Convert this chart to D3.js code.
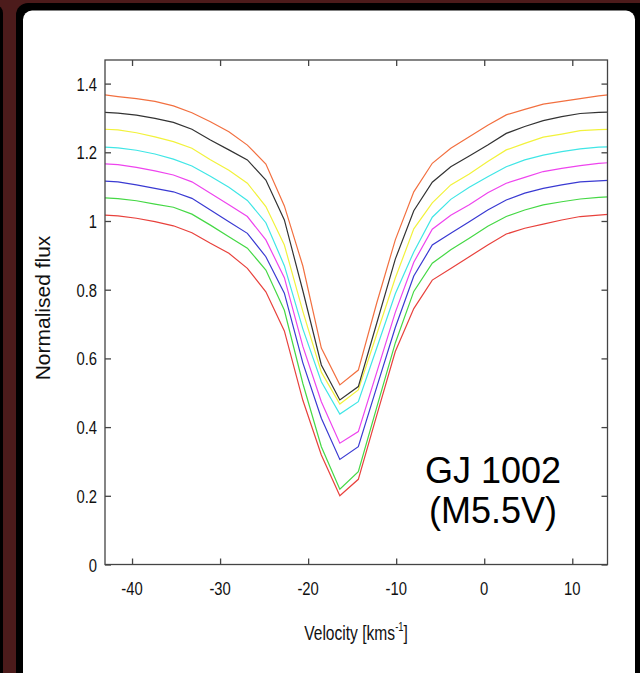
<!DOCTYPE html>
<html>
<head>
<meta charset="utf-8">
<script src="https://cdn.jsdelivr.net/npm/d3@7"></script>
<style>
html, body { margin: 0; padding: 0; background: #000; overflow: hidden; }
svg { display: block; }
</style>
</head>
<body>
<div id="chart"></div>
<script>
// velocity grid of the profiles (km/s)
const velocity = [-43.7, -41.6, -39.5, -37.4, -35.3, -33.2, -31.1, -29.0, -26.9, -24.8, -22.7, -20.6, -18.5, -16.4, -14.3,
    -12.2, -10.1, -8.0, -5.9, -3.8, -1.7, 0.4, 2.5, 4.6, 6.7, 8.8, 10.9, 13.0, 15.1];

// normalised flux, one profile per colour (bottom to top)
const fluxRed = [1.018, 1.015, 1.008, 0.998, 0.986, 0.966, 0.935, 0.906, 0.862, 0.794, 0.680, 0.478, 0.319, 0.200, 0.248,
    0.435, 0.620, 0.745, 0.828, 0.862, 0.896, 0.930, 0.962, 0.979, 0.991, 1.003, 1.013, 1.017, 1.021];
const fluxGreen = [1.068, 1.065, 1.059, 1.049, 1.040, 1.020, 0.988, 0.954, 0.921, 0.857, 0.740, 0.527, 0.343, 0.219, 0.270,
    0.458, 0.645, 0.795, 0.877, 0.916, 0.950, 0.985, 1.013, 1.032, 1.047, 1.056, 1.064, 1.069, 1.072];
const fluxBlue = [1.117, 1.114, 1.105, 1.095, 1.085, 1.066, 1.032, 0.998, 0.964, 0.896, 0.790, 0.587, 0.426, 0.306, 0.343,
    0.517, 0.690, 0.840, 0.930, 0.964, 0.998, 1.032, 1.061, 1.081, 1.095, 1.105, 1.114, 1.117, 1.120];
const fluxMagenta = [1.167, 1.164, 1.156, 1.146, 1.134, 1.114, 1.081, 1.047, 1.013, 0.945, 0.835, 0.635, 0.474, 0.353, 0.387,
    0.560, 0.734, 0.880, 0.976, 1.017, 1.047, 1.082, 1.110, 1.127, 1.144, 1.153, 1.161, 1.168, 1.171];
const fluxCyan = [1.216, 1.213, 1.206, 1.195, 1.180, 1.160, 1.130, 1.098, 1.060, 0.995, 0.870, 0.686, 0.532, 0.438, 0.474,
    0.631, 0.788, 0.910, 1.011, 1.063, 1.098, 1.129, 1.158, 1.178, 1.192, 1.202, 1.210, 1.215, 1.217];
const fluxYellow = [1.268, 1.265, 1.257, 1.245, 1.231, 1.212, 1.178, 1.148, 1.110, 1.042, 0.930, 0.737, 0.560, 0.467, 0.508,
    0.671, 0.834, 0.977, 1.053, 1.105, 1.137, 1.173, 1.207, 1.226, 1.244, 1.253, 1.263, 1.266, 1.268];
const fluxBlack = [1.317, 1.314, 1.308, 1.299, 1.287, 1.267, 1.236, 1.207, 1.178, 1.119, 1.003, 0.797, 0.581, 0.479, 0.518,
    0.703, 0.889, 1.030, 1.113, 1.158, 1.189, 1.221, 1.255, 1.275, 1.292, 1.304, 1.313, 1.316, 1.318];
const fluxOrange = [1.369, 1.362, 1.356, 1.348, 1.335, 1.315, 1.289, 1.260, 1.221, 1.166, 1.044, 0.869, 0.630, 0.523, 0.566,
    0.762, 0.945, 1.085, 1.168, 1.212, 1.245, 1.279, 1.309, 1.325, 1.340, 1.348, 1.356, 1.364, 1.370];

const xTicks = [-40, -30, -20, -10, 0, 10];
const yTicks = [0, 0.2, 0.4, 0.6, 0.8, 1, 1.2, 1.4];

const profiles = [
    {flux: fluxRed, color: "#e8413c"},
    {flux: fluxGreen, color: "#45d845"},
    {flux: fluxBlue, color: "#3a3ad2"},
    {flux: fluxMagenta, color: "#ee44ee"},
    {flux: fluxCyan, color: "#40e6e6"},
    {flux: fluxYellow, color: "#f2f23c"},
    {flux: fluxBlack, color: "#333333"},
    {flux: fluxOrange, color: "#f27040"}
];

const width = 640;
const height = 673;
const plot = {left: 105, right: 607.5, top: 60, bottom: 564.5};
const squeeze = 0.78; // figure text is horizontally compressed

const svg = d3.select("#chart").append("svg")
    .attr("width", width)
    .attr("height", height);

// slide background
svg.append("rect").attr("width", width).attr("height", height).attr("fill", "#4c1b1b");
svg.append("rect").attr("x", -20).attr("y", 5).attr("width", 23).attr("height", 700).attr("rx", 8).attr("fill", "#000");
svg.append("rect").attr("x", 16).attr("y", 3).attr("width", 660).attr("height", 720).attr("rx", 12).attr("fill", "#000");
svg.append("rect").attr("x", 23).attr("y", 10.5).attr("width", 612).attr("height", 720).attr("rx", 9).attr("fill", "#fff");

const x = d3.scaleLinear().domain([-43.07, 14.0]).range([plot.left, plot.right]);
const y = d3.scaleLinear().domain([0, 1.4687]).range([plot.bottom, plot.top]);

svg.append("clipPath").attr("id", "plot-clip")
    .append("rect")
    .attr("x", plot.left).attr("y", plot.top)
    .attr("width", plot.right - plot.left).attr("height", plot.bottom - plot.top);

const line = d3.line()
    .x((d, i) => x(velocity[i]))
    .y(d => y(d));

svg.append("g").attr("clip-path", "url(#plot-clip)")
    .selectAll("path")
    .data(profiles)
    .enter()
    .append("path")
    .attr("d", d => line(d.flux))
    .attr("fill", "none")
    .attr("stroke", d => d.color)
    .attr("stroke-width", 1.2)
    .attr("stroke-linejoin", "miter");

// axes, ticks pointing inward on all four sides
const tickLen = 6;
const axisColor = "#444";

const bottomAxis = svg.append("g")
    .attr("transform", `translate(0,${plot.bottom})`)
    .call(d3.axisBottom(x).tickValues(xTicks).tickSizeInner(-tickLen).tickSizeOuter(0).tickFormat(""));
const topAxis = svg.append("g")
    .attr("transform", `translate(0,${plot.top})`)
    .call(d3.axisTop(x).tickValues(xTicks).tickSizeInner(-tickLen).tickSizeOuter(0).tickFormat(""));
const leftAxis = svg.append("g")
    .attr("transform", `translate(${plot.left},0)`)
    .call(d3.axisLeft(y).tickValues(yTicks).tickSizeInner(-tickLen).tickSizeOuter(0).tickFormat(""));
const rightAxis = svg.append("g")
    .attr("transform", `translate(${plot.right},0)`)
    .call(d3.axisRight(y).tickValues(yTicks).tickSizeInner(-tickLen).tickSizeOuter(0).tickFormat(""));

[bottomAxis, topAxis, leftAxis, rightAxis].forEach(a => {
    a.select(".domain").remove();
    a.selectAll("line").attr("stroke", axisColor).attr("stroke-width", 1.3);
});

svg.append("rect")
    .attr("x", plot.left).attr("y", plot.top)
    .attr("width", plot.right - plot.left).attr("height", plot.bottom - plot.top)
    .attr("fill", "none")
    .attr("stroke", axisColor)
    .attr("stroke-width", 1.3);

const font = "'Liberation Sans', Arial, sans-serif";

// tick labels
svg.append("g").selectAll("text")
    .data(xTicks)
    .enter()
    .append("text")
    .attr("transform", d => `translate(${x(d)},595) scale(${squeeze},1)`)
    .attr("text-anchor", "middle")
    .attr("font-family", font)
    .attr("font-size", 19)
    .attr("fill", "#111")
    .text(d => d);

svg.append("g").selectAll("text")
    .data(yTicks)
    .enter()
    .append("text")
    .attr("transform", d => `translate(97,${y(d) + 7}) scale(${squeeze},1)`)
    .attr("text-anchor", "end")
    .attr("font-family", font)
    .attr("font-size", 19)
    .attr("fill", "#111")
    .text(d => d);

// axis titles
const xTitle = svg.append("text")
    .attr("transform", `translate(356,640) scale(${squeeze},1)`)
    .attr("text-anchor", "middle")
    .attr("font-family", font)
    .attr("font-size", 20)
    .attr("fill", "#111");
xTitle.append("tspan").text("Velocity [kms");
xTitle.append("tspan").attr("font-size", 12).attr("dy", -9).text("-1");
xTitle.append("tspan").attr("dy", 9).text("]");

svg.append("text")
    .attr("transform", "translate(50,308) rotate(-90)")
    .attr("text-anchor", "middle")
    .attr("font-family", font)
    .attr("font-size", 21)
    .attr("fill", "#111")
    .text("Normalised flux");

// star label
const label = svg.append("text")
    .attr("text-anchor", "middle")
    .attr("font-family", font)
    .attr("font-size", 36)
    .attr("fill", "#000");
label.append("tspan").attr("x", 493).attr("y", 483).text("GJ 1002");
label.append("tspan").attr("x", 493).attr("y", 522.5).text("(M5.5V)");
</script>
</body>
</html>
